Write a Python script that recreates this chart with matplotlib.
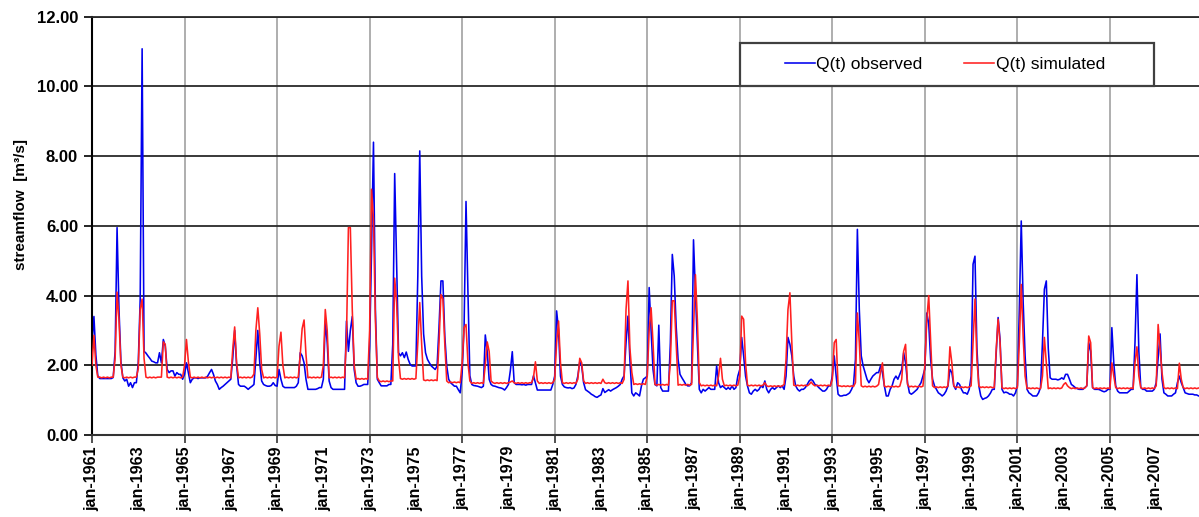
"""
Observed vs simulated monthly streamflow, 1961-2008
"""

import numpy as np
import matplotlib.pyplot as plt
from matplotlib.patches import Rectangle
from matplotlib.ticker import FixedLocator

plt.rcParams['font.family'] = ['Liberation Sans', 'DejaVu Sans']

# Configuration
OUTPUT_PLOT = "out.png"
START_YEAR = 1961

# Monthly values (m3/s), one row per year, Jan..Dec
observed = [
    2.60, 3.40, 2.30, 1.70, 1.62, 1.62, 1.62, 1.62, 1.62, 1.62, 1.62, 1.65,  # 1961
    2.40, 5.95, 3.60, 2.10, 1.64, 1.55, 1.60, 1.40, 1.50, 1.36, 1.50, 1.50,  # 1962
    2.07, 3.90, 11.08, 2.40, 2.35, 2.27, 2.20, 2.12, 2.10, 2.07, 2.07, 2.36,  # 1963
    2.07, 2.74, 2.55, 1.88, 1.79, 1.84, 1.84, 1.69, 1.79, 1.74, 1.74, 1.60,  # 1964
    1.74, 2.07, 1.79, 1.50, 1.60, 1.64, 1.64, 1.62, 1.64, 1.64, 1.64, 1.64,  # 1965
    1.69, 1.79, 1.88, 1.74, 1.55, 1.45, 1.31, 1.36, 1.40, 1.45, 1.50, 1.55,  # 1966
    1.60, 2.20, 3.00, 2.00, 1.45, 1.40, 1.40, 1.40, 1.36, 1.31, 1.36, 1.40,  # 1967
    1.45, 2.20, 3.00, 2.07, 1.55, 1.45, 1.42, 1.40, 1.40, 1.42, 1.50, 1.42,  # 1968
    1.40, 1.88, 1.60, 1.40, 1.36, 1.36, 1.36, 1.36, 1.36, 1.36, 1.40, 1.50,  # 1969
    2.36, 2.27, 2.07, 1.60, 1.31, 1.31, 1.31, 1.31, 1.31, 1.33, 1.36, 1.36,  # 1970
    1.60, 3.27, 2.65, 1.55, 1.36, 1.31, 1.31, 1.31, 1.31, 1.31, 1.31, 1.31,  # 1971
    3.27, 2.40, 3.00, 3.40, 1.88, 1.50, 1.40, 1.40, 1.42, 1.45, 1.45, 1.45,  # 1972
    2.55, 5.30, 8.40, 3.60, 1.60, 1.50, 1.41, 1.41, 1.41, 1.41, 1.45, 1.45,  # 1973
    2.60, 7.50, 5.00, 2.36, 2.27, 2.36, 2.22, 2.38, 2.17, 2.03, 1.98, 1.98,  # 1974
    1.98, 4.56, 8.15, 4.56, 2.90, 2.36, 2.17, 2.07, 1.98, 1.93, 1.88, 1.98,  # 1975
    3.10, 4.42, 4.42, 2.84, 1.98, 1.60, 1.50, 1.45, 1.40, 1.40, 1.30, 1.21,  # 1976
    1.80, 3.10, 6.70, 4.10, 1.70, 1.45, 1.42, 1.41, 1.40, 1.38, 1.36, 1.40,  # 1977
    2.87, 2.40, 1.60, 1.45, 1.41, 1.40, 1.38, 1.36, 1.35, 1.33, 1.29, 1.36,  # 1978
    1.45, 1.85, 2.39, 1.50, 1.45, 1.45, 1.45, 1.44, 1.45, 1.43, 1.45, 1.45,  # 1979
    1.45, 1.70, 1.50, 1.29, 1.29, 1.29, 1.29, 1.29, 1.29, 1.29, 1.29, 1.45,  # 1980
    1.69, 3.56, 3.00, 1.69, 1.45, 1.38, 1.36, 1.35, 1.36, 1.33, 1.35, 1.45,  # 1981
    1.69, 2.10, 1.98, 1.50, 1.30, 1.26, 1.22, 1.17, 1.14, 1.10, 1.08, 1.12,  # 1982
    1.15, 1.33, 1.22, 1.26, 1.30, 1.26, 1.30, 1.33, 1.36, 1.40, 1.45, 1.60,  # 1983
    1.70, 2.65, 3.41, 2.17, 1.21, 1.12, 1.21, 1.17, 1.12, 1.41, 1.60, 1.64,  # 1984
    1.69, 4.23, 3.00, 1.88, 1.45, 1.41, 3.15, 1.36, 1.26, 1.26, 1.26, 1.26,  # 1985
    2.65, 5.18, 4.56, 3.12, 2.17, 1.74, 1.64, 1.55, 1.45, 1.41, 1.41, 1.50,  # 1986
    5.60, 4.08, 2.65, 1.31, 1.21, 1.31, 1.26, 1.31, 1.36, 1.31, 1.31, 1.31,  # 1987
    1.98, 1.50, 1.36, 1.41, 1.36, 1.31, 1.36, 1.31, 1.41, 1.31, 1.36, 1.69,  # 1988
    1.88, 2.80, 2.27, 1.69, 1.41, 1.21, 1.17, 1.26, 1.31, 1.26, 1.31, 1.41,  # 1989
    1.36, 1.55, 1.31, 1.21, 1.31, 1.36, 1.31, 1.36, 1.41, 1.36, 1.41, 1.31,  # 1990
    1.69, 2.80, 2.60, 2.27, 1.69, 1.41, 1.31, 1.26, 1.31, 1.31, 1.36, 1.45,  # 1991
    1.55, 1.60, 1.55, 1.45, 1.42, 1.36, 1.31, 1.26, 1.26, 1.31, 1.41, 1.41,  # 1992
    1.69, 2.27, 1.69, 1.17, 1.12, 1.12, 1.14, 1.14, 1.17, 1.21, 1.31, 1.45,  # 1993
    2.17, 5.90, 3.60, 2.27, 1.98, 1.79, 1.60, 1.50, 1.60, 1.69, 1.74, 1.79,  # 1994
    1.79, 1.98, 1.79, 1.41, 1.12, 1.12, 1.31, 1.41, 1.60, 1.69, 1.60, 1.74,  # 1995
    1.88, 2.36, 2.07, 1.50, 1.21, 1.17, 1.21, 1.26, 1.31, 1.41, 1.50, 1.69,  # 1996
    1.90, 3.50, 3.20, 2.17, 1.60, 1.41, 1.31, 1.21, 1.17, 1.12, 1.17, 1.26,  # 1997
    1.41, 1.88, 1.79, 1.41, 1.31, 1.50, 1.45, 1.31, 1.21, 1.21, 1.17, 1.31,  # 1998
    1.69, 4.90, 5.13, 2.50, 1.41, 1.12, 1.02, 1.05, 1.07, 1.12, 1.20, 1.31,  # 1999
    1.31, 2.36, 3.37, 2.74, 1.31, 1.21, 1.23, 1.21, 1.17, 1.17, 1.12, 1.21,  # 2000
    1.41, 3.60, 6.14, 3.80, 2.27, 1.31, 1.21, 1.17, 1.12, 1.12, 1.12, 1.21,  # 2001
    1.36, 2.65, 4.18, 4.42, 2.50, 1.64, 1.60, 1.60, 1.60, 1.58, 1.60, 1.64,  # 2002
    1.60, 1.74, 1.74, 1.60, 1.45, 1.41, 1.36, 1.33, 1.31, 1.31, 1.31, 1.36,  # 2003
    1.41, 2.65, 2.40, 1.36, 1.31, 1.31, 1.31, 1.29, 1.26, 1.24, 1.26, 1.31,  # 2004
    1.31, 3.08, 2.07, 1.41, 1.26, 1.21, 1.21, 1.21, 1.21, 1.21, 1.26, 1.31,  # 2005
    1.31, 2.65, 4.60, 2.40, 1.36, 1.31, 1.31, 1.26, 1.26, 1.26, 1.26, 1.31,  # 2006
    1.50, 2.20, 2.90, 1.60, 1.21, 1.17, 1.12, 1.12, 1.12, 1.17, 1.21, 1.50,  # 2007
    1.69, 1.50, 1.36, 1.21, 1.19, 1.17, 1.17, 1.17, 1.15, 1.15, 1.12, 1.12,  # 2008
]

simulated = [
    2.00, 2.86, 2.00, 1.66, 1.66, 1.64, 1.66, 1.64, 1.66, 1.64, 1.66, 1.66,  # 1961
    2.20, 4.10, 3.30, 2.00, 1.66, 1.64, 1.66, 1.64, 1.66, 1.64, 1.66, 1.66,  # 1962
    1.90, 3.60, 3.90, 2.20, 1.66, 1.64, 1.66, 1.64, 1.66, 1.64, 1.66, 1.66,  # 1963
    1.66, 2.67, 2.60, 1.66, 1.64, 1.66, 1.64, 1.66, 1.64, 1.66, 1.64, 1.66,  # 1964
    2.00, 2.74, 2.10, 1.66, 1.64, 1.66, 1.64, 1.66, 1.64, 1.66, 1.64, 1.66,  # 1965
    1.64, 1.66, 1.64, 1.66, 1.64, 1.66, 1.64, 1.66, 1.64, 1.66, 1.64, 1.66,  # 1966
    1.64, 2.45, 3.10, 2.07, 1.64, 1.66, 1.64, 1.66, 1.64, 1.66, 1.64, 1.66,  # 1967
    1.75, 3.00, 3.65, 2.90, 1.88, 1.64, 1.66, 1.64, 1.66, 1.64, 1.66, 1.64,  # 1968
    1.66, 2.55, 2.95, 2.00, 1.64, 1.66, 1.64, 1.66, 1.64, 1.66, 1.64, 1.66,  # 1969
    2.30, 3.05, 3.30, 2.30, 1.64, 1.66, 1.64, 1.66, 1.64, 1.66, 1.64, 1.66,  # 1970
    2.00, 3.60, 3.00, 1.64, 1.66, 1.64, 1.66, 1.64, 1.66, 1.64, 1.66, 1.64,  # 1971
    2.80, 5.95, 5.95, 3.60, 2.00, 1.60, 1.62, 1.60, 1.62, 1.60, 1.62, 1.60,  # 1972
    3.00, 7.05, 6.20, 3.30, 1.65, 1.55, 1.53, 1.55, 1.53, 1.55, 1.53, 1.55,  # 1973
    1.55, 4.50, 3.80, 2.20, 1.62, 1.60, 1.62, 1.60, 1.62, 1.60, 1.62, 1.60,  # 1974
    1.62, 2.65, 3.80, 2.60, 1.58, 1.56, 1.58, 1.56, 1.58, 1.56, 1.58, 1.56,  # 1975
    2.65, 4.03, 3.90, 2.60, 1.55, 1.50, 1.52, 1.50, 1.52, 1.50, 1.52, 1.50,  # 1976
    2.07, 3.08, 3.17, 2.07, 1.55, 1.48, 1.50, 1.48, 1.50, 1.48, 1.50, 1.48,  # 1977
    2.00, 2.67, 2.40, 1.55, 1.50, 1.48, 1.50, 1.48, 1.50, 1.48, 1.50, 1.48,  # 1978
    1.50, 1.52, 1.55, 1.50, 1.48, 1.50, 1.48, 1.50, 1.48, 1.50, 1.48, 1.50,  # 1979
    1.50, 1.65, 2.10, 1.55, 1.48, 1.50, 1.48, 1.50, 1.48, 1.50, 1.48, 1.50,  # 1980
    1.60, 2.65, 3.27, 2.07, 1.50, 1.48, 1.50, 1.48, 1.50, 1.48, 1.50, 1.48,  # 1981
    1.60, 2.20, 2.07, 1.55, 1.48, 1.50, 1.48, 1.50, 1.48, 1.50, 1.48, 1.50,  # 1982
    1.48, 1.60, 1.50, 1.48, 1.50, 1.48, 1.50, 1.48, 1.50, 1.48, 1.50, 1.48,  # 1983
    1.60, 3.60, 4.42, 2.50, 1.80, 1.45, 1.47, 1.45, 1.47, 1.45, 1.47, 1.45,  # 1984
    1.69, 3.00, 3.65, 2.65, 1.45, 1.43, 1.45, 1.43, 1.45, 1.43, 1.45, 1.43,  # 1985
    2.07, 3.85, 3.85, 2.65, 1.43, 1.45, 1.43, 1.45, 1.43, 1.45, 1.43, 1.45,  # 1986
    3.00, 4.60, 3.30, 1.50, 1.41, 1.43, 1.41, 1.43, 1.41, 1.43, 1.41, 1.43,  # 1987
    1.41, 1.69, 2.20, 1.60, 1.41, 1.43, 1.41, 1.43, 1.41, 1.43, 1.41, 1.43,  # 1988
    1.69, 3.41, 3.32, 2.07, 1.43, 1.41, 1.43, 1.41, 1.43, 1.41, 1.43, 1.41,  # 1989
    1.43, 1.50, 1.41, 1.39, 1.41, 1.39, 1.41, 1.39, 1.41, 1.39, 1.41, 1.45,  # 1990
    2.17, 3.60, 4.08, 2.65, 1.43, 1.41, 1.43, 1.41, 1.43, 1.41, 1.43, 1.41,  # 1991
    1.45, 1.52, 1.45, 1.41, 1.43, 1.41, 1.43, 1.41, 1.43, 1.41, 1.43, 1.41,  # 1992
    1.60, 2.65, 2.74, 1.41, 1.41, 1.39, 1.41, 1.39, 1.41, 1.39, 1.41, 1.39,  # 1993
    1.50, 3.50, 2.65, 1.41, 1.38, 1.40, 1.38, 1.40, 1.38, 1.40, 1.38, 1.40,  # 1994
    1.45, 1.80, 2.07, 1.40, 1.38, 1.40, 1.38, 1.40, 1.38, 1.40, 1.38, 1.40,  # 1995
    1.60, 2.40, 2.60, 1.45, 1.38, 1.40, 1.38, 1.40, 1.38, 1.40, 1.38, 1.40,  # 1996
    2.00, 3.30, 4.00, 2.74, 1.41, 1.36, 1.38, 1.36, 1.38, 1.36, 1.38, 1.36,  # 1997
    1.41, 2.53, 2.07, 1.41, 1.36, 1.38, 1.36, 1.38, 1.36, 1.38, 1.36, 1.38,  # 1998
    1.41, 2.65, 3.90, 2.17, 1.41, 1.36, 1.38, 1.36, 1.38, 1.36, 1.38, 1.36,  # 1999
    1.36, 2.45, 3.32, 2.65, 1.36, 1.33, 1.35, 1.33, 1.35, 1.33, 1.35, 1.33,  # 2000
    1.36, 2.65, 4.32, 2.80, 1.69, 1.33, 1.35, 1.33, 1.35, 1.33, 1.35, 1.33,  # 2001
    1.33, 1.69, 2.80, 2.07, 1.33, 1.35, 1.33, 1.35, 1.33, 1.35, 1.33, 1.35,  # 2002
    1.45, 1.50, 1.41, 1.36, 1.33, 1.35, 1.33, 1.35, 1.33, 1.35, 1.33, 1.35,  # 2003
    1.41, 2.84, 2.65, 1.36, 1.33, 1.35, 1.33, 1.35, 1.33, 1.35, 1.33, 1.35,  # 2004
    1.33, 2.07, 1.69, 1.36, 1.33, 1.35, 1.33, 1.35, 1.33, 1.35, 1.33, 1.35,  # 2005
    1.33, 2.07, 2.53, 1.69, 1.36, 1.33, 1.35, 1.33, 1.35, 1.33, 1.35, 1.33,  # 2006
    1.41, 3.17, 2.50, 1.80, 1.36, 1.33, 1.35, 1.33, 1.35, 1.33, 1.35, 1.33,  # 2007
    2.06, 1.60, 1.36, 1.33, 1.35, 1.33, 1.35, 1.33, 1.35, 1.33, 1.35, 1.33,  # 2008
]

series_labels = ['Q(t) observed', 'Q(t) simulated']
label_years = list(range(1961, 2008, 2))
y_ticks = [0, 2, 4, 6, 8, 10, 12]

assert len(observed) == len(simulated)

# time axis in decimal years, one point per month
x = START_YEAR + np.arange(len(observed)) / 12.0

fig = plt.figure(figsize=(11.99, 5.17), dpi=100)
W, H = 1199.0, 517.0
ax = fig.add_axes([92 / W, 1 - 435 / H, 1 - 92 / W, (435 - 16.7) / H])

ax.plot(x, observed, color='#0000ee', lw=1.15, label=series_labels[0], zorder=2)
ax.plot(x, simulated, color='#ff2020', lw=1.15, label=series_labels[1], zorder=3)

ax.set_xlim(1961, 2008.85)
ax.set_ylim(0, 12)

# y axis
ax.set_yticks(y_ticks)
ax.set_yticklabels([f'{v:.2f}' for v in y_ticks], fontsize=12, fontweight='bold')
ax.tick_params(axis='y', length=6, width=1.2, color='black', pad=4)
ax.set_ylabel('streamflow  [m³/s]', fontsize=11, fontweight='bold')
ax.yaxis.set_label_coords(-0.058, 0.55)

# x axis: gridlines and tick marks every 4 years, labels every 2 years
major_years = label_years[::2]
minor_years = label_years[1::2]
ax.xaxis.set_major_locator(FixedLocator(major_years))
ax.xaxis.set_minor_locator(FixedLocator(minor_years))
ax.set_xticklabels([f'jan-{y}' for y in major_years], rotation=90,
                   fontsize=11.5, fontweight='bold')
ax.set_xticklabels([f'jan-{y}' for y in minor_years], minor=True, rotation=90,
                   fontsize=11.5, fontweight='bold')
ax.tick_params(axis='x', which='major', length=6, width=1.2, color='#333333', pad=2)
ax.tick_params(axis='x', which='minor', length=0, pad=8)

ax.set_axisbelow(True)
ax.grid(axis='x', which='major', color='#a8a8a8', lw=1.3)
ax.grid(axis='y', color='#2a2a2a', lw=1.3)

ax.spines['right'].set_visible(False)
ax.spines['left'].set_color('black')
ax.spines['left'].set_linewidth(1.5)
ax.spines['bottom'].set_color('#333333')
ax.spines['bottom'].set_linewidth(1.5)
ax.spines['top'].set_color('#2a2a2a')
ax.spines['top'].set_linewidth(1.3)

# legend box drawn by hand so it can be wider than its contents
box = Rectangle((740 / W, 1 - 86 / H), 414 / W, 43 / H, transform=fig.transFigure,
                facecolor='white', edgecolor='#404040', lw=1.6, zorder=4, clip_on=False)
ax.add_patch(box)
ax.legend(ncol=2, loc='center', bbox_to_anchor=(945 / W, 1 - 64.5 / H),
          bbox_transform=fig.transFigure, frameon=False, fontsize=12.5,
          handlelength=1.7, handletextpad=0.1, columnspacing=2.4)

plt.savefig(OUTPUT_PLOT, dpi=100)
plt.close()
